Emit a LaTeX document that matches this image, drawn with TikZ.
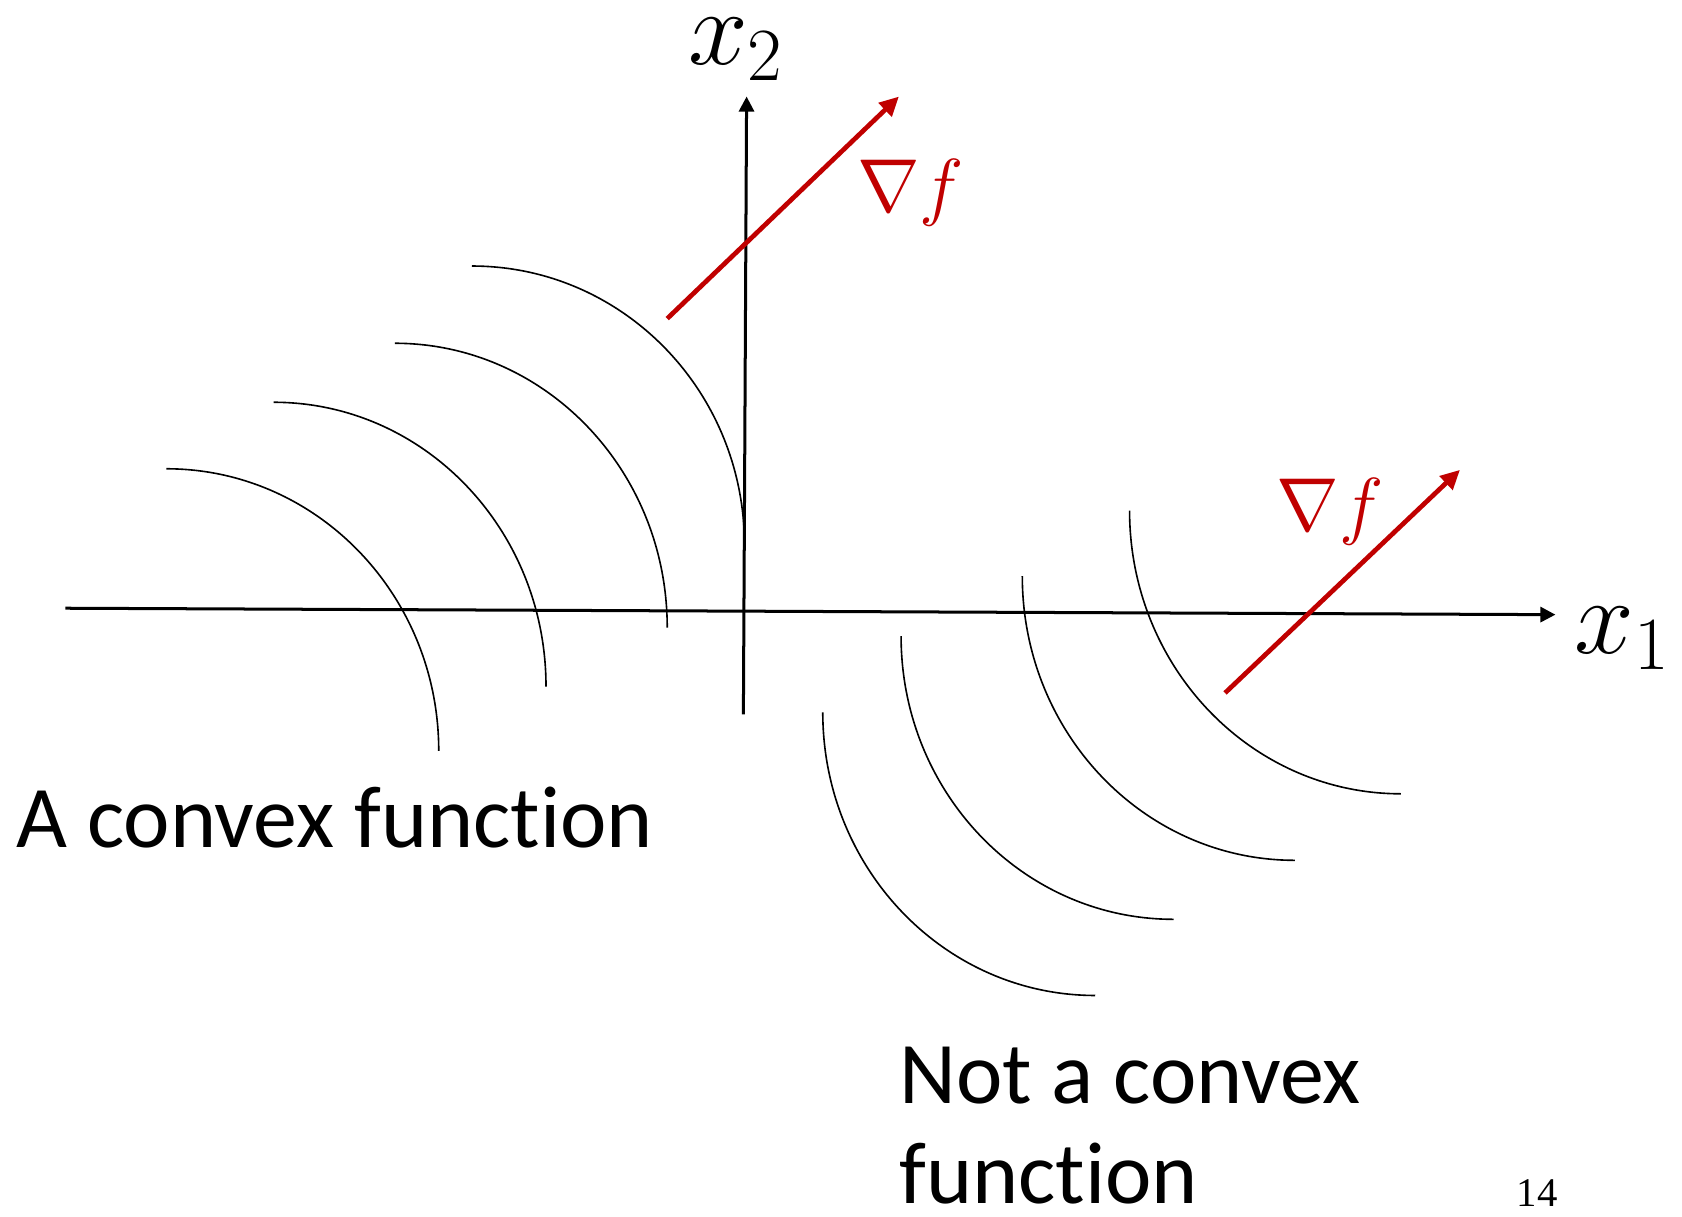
\RequirePackage{fix-cm}
\documentclass[tikz,border=0pt]{standalone}
\usepackage{fontspec}
\setmainfont{Carlito}[Ligatures=NoCommon]
\newfontfamily\numfont{Liberation Serif}
\usetikzlibrary{arrows.meta}
\definecolor{gradred}{HTML}{C00000}
\begin{document}
\begin{tikzpicture}[x=0.5pt,y=0.5pt,
  axis/.style={line width=1.4pt,-{Triangle[length=7pt,width=7pt]}},
  grad/.style={gradred,line width=2.2pt,-{Triangle[length=9pt,width=8.5pt]}},
  level/.style={line width=0.75pt},
  axlabel/.style={inner sep=0pt,font=\fontsize{50}{58}\selectfont},
  gradlabel/.style={inner sep=0pt,text=gradred,font=\fontsize{35}{42}\selectfont},
  caption/.style={inner sep=0pt,anchor=base west,font=\fontsize{41}{46.5}\selectfont}]
\useasboundingbox (0,0) rectangle (1568,-1134);
% axes
\coordinate (x1s) at (61,-567);
\coordinate (x1e) at (1450,-573);
\coordinate (x2s) at (693,-666);
\coordinate (x2e) at (696,-90);
\draw[axis] (x1s) -- (x1e);
\draw[axis] (x2s) -- (x2e);
\node[axlabel] (lx1) at (1512,-595) {$x_1$};
\node[axlabel] (lx2) at (686,-46) {$x_2$};
% convex level sets
\draw[level] (155,-437) arc[start angle=90,end angle=0,x radius=254,y radius=263];
\draw[level] (255,-375) arc[start angle=90,end angle=0,x radius=254,y radius=265];
\draw[level] (368,-320) arc[start angle=90,end angle=0,x radius=254,y radius=265];
\draw[level] (440,-248) arc[start angle=90,end angle=0,x radius=254,y radius=260];
% non-convex level sets
\draw[level] (767,-664) arc[start angle=180,end angle=270,x radius=254,y radius=264];
\draw[level] (840,-593) arc[start angle=180,end angle=270,x radius=254,y radius=264];
\draw[level] (953,-537) arc[start angle=180,end angle=270,x radius=254,y radius=265];
\draw[level] (1053,-476) arc[start angle=180,end angle=270,x radius=253,y radius=264];
% gradients
\coordinate (g1s) at (622,-297);
\coordinate (g1e) at (838,-90);
\coordinate (g2s) at (1142,-646);
\coordinate (g2e) at (1361,-438);
\draw[grad] (g1s) -- (g1e);
\draw[grad] (g2s) -- (g2e);
\node[gradlabel] (gl1) at (849,-180) {$\nabla f$};
\node[gradlabel] (gl2) at (1240,-477) {$\nabla f$};
% captions
\node[caption] (cvx) at (15,-790) {A convex function};
\node[caption,align=left] (ncvx) at (838,-1122) {Not a convex\\function};
\node[inner sep=0pt,font=\numfont\fontsize{19}{22}\selectfont] (pg) at (1433,-1112) {14};
\end{tikzpicture}
\end{document}
